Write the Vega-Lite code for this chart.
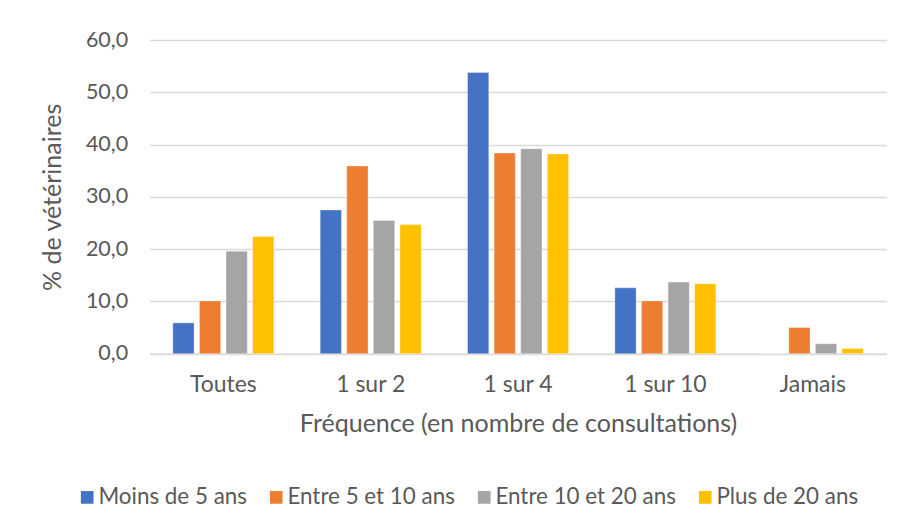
{
  "$schema": "https://vega.github.io/schema/vega-lite/v6.json",
  "width": 736.7,
  "height": 313.7,
  "autosize": {"type": "none"},
  "padding": {"left": 149.7, "top": 40, "right": 16.6, "bottom": 173.3},
  "background": "white",
  "data": {
    "values": [
      {"freq": "Toutes", "group": "Moins de 5 ans", "value": 5.9},
      {"freq": "Toutes", "group": "Entre 5 et 10 ans", "value": 10.1},
      {"freq": "Toutes", "group": "Entre 10 et 20 ans", "value": 19.6},
      {"freq": "Toutes", "group": "Plus de 20 ans", "value": 22.4},
      {"freq": "1 sur 2", "group": "Moins de 5 ans", "value": 27.5},
      {"freq": "1 sur 2", "group": "Entre 5 et 10 ans", "value": 35.9},
      {"freq": "1 sur 2", "group": "Entre 10 et 20 ans", "value": 25.5},
      {"freq": "1 sur 2", "group": "Plus de 20 ans", "value": 24.7},
      {"freq": "1 sur 4", "group": "Moins de 5 ans", "value": 53.8},
      {"freq": "1 sur 4", "group": "Entre 5 et 10 ans", "value": 38.4},
      {"freq": "1 sur 4", "group": "Entre 10 et 20 ans", "value": 39.2},
      {"freq": "1 sur 4", "group": "Plus de 20 ans", "value": 38.2},
      {"freq": "1 sur 10", "group": "Moins de 5 ans", "value": 12.6},
      {"freq": "1 sur 10", "group": "Entre 5 et 10 ans", "value": 10.1},
      {"freq": "1 sur 10", "group": "Entre 10 et 20 ans", "value": 13.7},
      {"freq": "1 sur 10", "group": "Plus de 20 ans", "value": 13.4},
      {"freq": "Jamais", "group": "Moins de 5 ans", "value": 0},
      {"freq": "Jamais", "group": "Entre 5 et 10 ans", "value": 5.0},
      {"freq": "Jamais", "group": "Entre 10 et 20 ans", "value": 1.9},
      {"freq": "Jamais", "group": "Plus de 20 ans", "value": 1.0}
    ]
  },
  "mark": {"type": "bar", "stroke": "white", "strokeWidth": 0.6, "strokeOpacity": 0.6},
  "encoding": {
    "x": {
      "field": "freq",
      "type": "nominal",
      "sort": ["Toutes", "1 sur 2", "1 sur 4", "1 sur 10", "Jamais"],
      "scale": {"paddingInner": 0.314, "paddingOuter": 0.157},
      "axis": {
        "title": "Fréquence (en nombre de consultations)",
        "labelAngle": 0,
        "ticks": false,
        "labelPadding": 20,
        "titlePadding": 15,
        "domainColor": "#d9d9d9",
        "domainWidth": 1.5
      }
    },
    "xOffset": {
      "field": "group",
      "type": "nominal",
      "sort": ["Moins de 5 ans", "Entre 5 et 10 ans", "Entre 10 et 20 ans", "Plus de 20 ans"],
      "scale": {"paddingInner": 0.2, "paddingOuter": 0}
    },
    "y": {
      "field": "value",
      "type": "quantitative",
      "scale": {"domain": [0, 60], "nice": false},
      "axis": {
        "title": "% de vétérinaires",
        "values": [0, 10, 20, 30, 40, 50, 60],
        "labelExpr": "replace(format(datum.value, '.1f'), '.', ',')",
        "labelFontSize": 21.5,
        "domain": false,
        "ticks": false,
        "labelPadding": 22,
        "titlePadding": 20,
        "grid": true,
        "gridColor": "#d9d9d9",
        "gridWidth": 1.5
      }
    },
    "color": {
      "field": "group",
      "type": "nominal",
      "sort": ["Moins de 5 ans", "Entre 5 et 10 ans", "Entre 10 et 20 ans", "Plus de 20 ans"],
      "scale": {
        "domain": ["Moins de 5 ans", "Entre 5 et 10 ans", "Entre 10 et 20 ans", "Plus de 20 ans"],
        "range": ["#4472C4", "#ED7D31", "#A5A5A5", "#FFC000"]
      },
      "legend": {
        "title": null,
        "orient": "none",
        "direction": "horizontal",
        "legendX": -73.7,
        "legendY": 446,
        "symbolType": "square",
        "symbolSize": 161,
        "symbolStrokeWidth": 0,
        "labelOffset": 0,
        "columnPadding": 18,
        "labelFontSize": 22.4,
        "labelColor": "#595959",
        "labelFont": "Lato",
        "labelLimit": 400
      }
    }
  },
  "config": {
    "view": {"stroke": null},
    "font": "Lato",
    "axis": {
      "labelFont": "Lato",
      "titleFont": "Lato",
      "labelFontSize": 23,
      "titleFontSize": 25,
      "labelColor": "#595959",
      "titleColor": "#595959",
      "titleFontWeight": "normal"
    }
  }
}
